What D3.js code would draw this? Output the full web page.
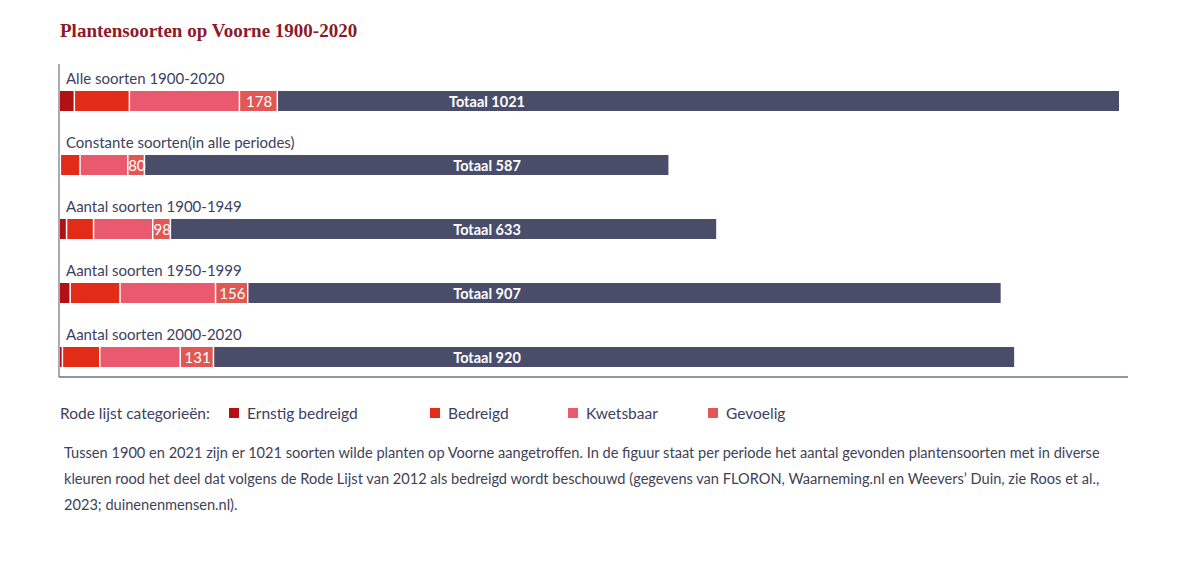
<!DOCTYPE html>
<html>
<head>
<meta charset="utf-8">
<script src="https://cdn.jsdelivr.net/npm/d3@7"></script>
<style>
  body { margin: 0; background: #fff; }
  svg text { font-family: Lato, "Open Sans", sans-serif; }
</style>
</head>
<body>
<script>
/* ------------------------------- Data ------------------------------- */
const categories = [
  "Alle soorten 1900-2020",
  "Constante soorten(in alle periodes)",
  "Aantal soorten 1900-1949",
  "Aantal soorten 1950-1999",
  "Aantal soorten 2000-2020"
];
const totals = [1021, 587, 633, 907, 920];
// red list parts
const ernstig = [15.5, 2, 8, 11.5, 4];
const bedreigd = [53, 19, 26, 48, 36];
const kwetsbaar = [106, 46, 57, 92, 77.5];
const gevoelig = [36.5, 16, 17, 31, 32];
const redLabels = [178, 80, 98, 156, 131];
const legendNames = ["Ernstig bedreigd", "Bedreigd", "Kwetsbaar", "Gevoelig"];
const captionLines = [
  "Tussen 1900 en 2021 zijn er 1021 soorten wilde planten op Voorne aangetroffen. In de figuur staat per periode het aantal gevonden plantensoorten met in diverse",
  "kleuren rood het deel dat volgens de Rode Lijst van 2012 als bedreigd wordt beschouwd (gegevens van FLORON, Waarneming.nl en Weevers’ Duin, zie Roos et al.,",
  "2023; duinenenmensen.nl)."
];

/* ------------------------------ Layout ------------------------------ */
const width = 1187, height = 575;
const left = 59, right = 1119;
const barHeight = 20;
const totalLabelX = 487;
const segColors = ["#b30f14", "#e32c17", "#ea5a6f", "#e05753"];
const darkColor = "#4a4d69";
const textColor = "#3d4160";

const svg = d3.select("body").append("svg")
  .attr("width", width)
  .attr("height", height);

const x = d3.scaleLinear().domain([0, 1021]).range([left, right]);
const y = d3.scaleBand().domain(categories).range([91, 367]).paddingInner(0.6875).paddingOuter(0);

// title
svg.append("text")
  .attr("x", 60).attr("y", 37)
  .style("font-family", "'Liberation Serif', serif")
  .style("font-weight", "bold")
  .style("font-size", "19px")
  .attr("fill", "#8c1a2a")
  .text("Plantensoorten op Voorne 1900-2020");

// build stacked segments per row
const rows = categories.map((c, i) => {
  const parts = [ernstig[i], bedreigd[i], kwetsbaar[i], gevoelig[i]];
  let acc = 0;
  const segs = parts.map((v, k) => {
    const s = { x0: acc, x1: acc + v, color: segColors[k] };
    acc += v;
    return s;
  });
  return { name: c, total: totals[i], red: acc, segs: segs, label: redLabels[i] };
});

const row = svg.selectAll("g.row")
  .data(rows)
  .enter()
  .append("g")
  .attr("class", "row");

// dark total bar
row.append("rect")
  .attr("x", d => x(d.red))
  .attr("y", d => y(d.name))
  .attr("width", d => x(d.total) - x(d.red))
  .attr("height", barHeight)
  .attr("fill", darkColor);

// red list segments
row.selectAll("rect.seg")
  .data(d => d.segs.map(s => Object.assign({ name: d.name }, s)))
  .enter()
  .append("rect")
  .attr("class", "seg")
  .attr("x", d => x(d.x0))
  .attr("y", d => y(d.name))
  .attr("width", d => Math.max(0.8, x(d.x1) - x(d.x0) - 1.5))
  .attr("height", barHeight)
  .attr("fill", d => d.color);

// category label
row.append("text")
  .attr("x", 66)
  .attr("y", d => y(d.name) - 7)
  .attr("fill", textColor)
  .style("font-size", "15px")
  .text(d => d.name);

// red total label in the last segment
row.append("text")
  .attr("x", d => (x(d.segs[3].x0) + x(d.segs[3].x1)) / 2)
  .attr("y", d => y(d.name) + 15.5)
  .attr("text-anchor", "middle")
  .attr("fill", "#fff")
  .style("font-size", "15px")
  .text(d => d.label);

// total label
row.append("text")
  .attr("x", totalLabelX)
  .attr("y", d => y(d.name) + 15.5)
  .attr("text-anchor", "middle")
  .attr("fill", "#fff")
  .style("font-size", "14.5px")
  .style("font-weight", "bold")
  .text(d => "Totaal " + d.total);

// axis lines
svg.append("line")
  .attr("x1", left).attr("x2", left)
  .attr("y1", 64).attr("y2", 377)
  .attr("stroke", "#a9a9ba").attr("stroke-width", 2);
svg.append("line")
  .attr("x1", left).attr("x2", 1128)
  .attr("y1", 377).attr("y2", 377)
  .attr("stroke", "#6d7088").attr("stroke-width", 1.5);

/* ------------------------------ Legend ------------------------------ */
svg.append("text")
  .attr("x", 60).attr("y", 419)
  .attr("fill", textColor)
  .style("font-size", "15.5px")
  .text("Rode lijst categorieën:");

const legendX = [229, 430, 568, 708];
const legend = svg.selectAll("g.legend")
  .data(legendNames)
  .enter()
  .append("g")
  .attr("class", "legend")
  .attr("transform", (d, i) => `translate(${legendX[i]},408)`);
legend.append("rect")
  .attr("width", 10).attr("height", 10)
  .attr("fill", (d, i) => segColors[i]);
legend.append("text")
  .attr("x", 18).attr("y", 11)
  .attr("fill", textColor)
  .style("font-size", "15.5px")
  .text(d => d);

/* ------------------------------ Caption ----------------------------- */
svg.selectAll("text.caption")
  .data(captionLines)
  .enter()
  .append("text")
  .attr("class", "caption")
  .attr("x", 64)
  .attr("y", (d, i) => 458 + i * 26)
  .attr("fill", "#3f4257")
  .style("font-size", "14.6px")
  .text(d => d);
</script>
</body>
</html>
